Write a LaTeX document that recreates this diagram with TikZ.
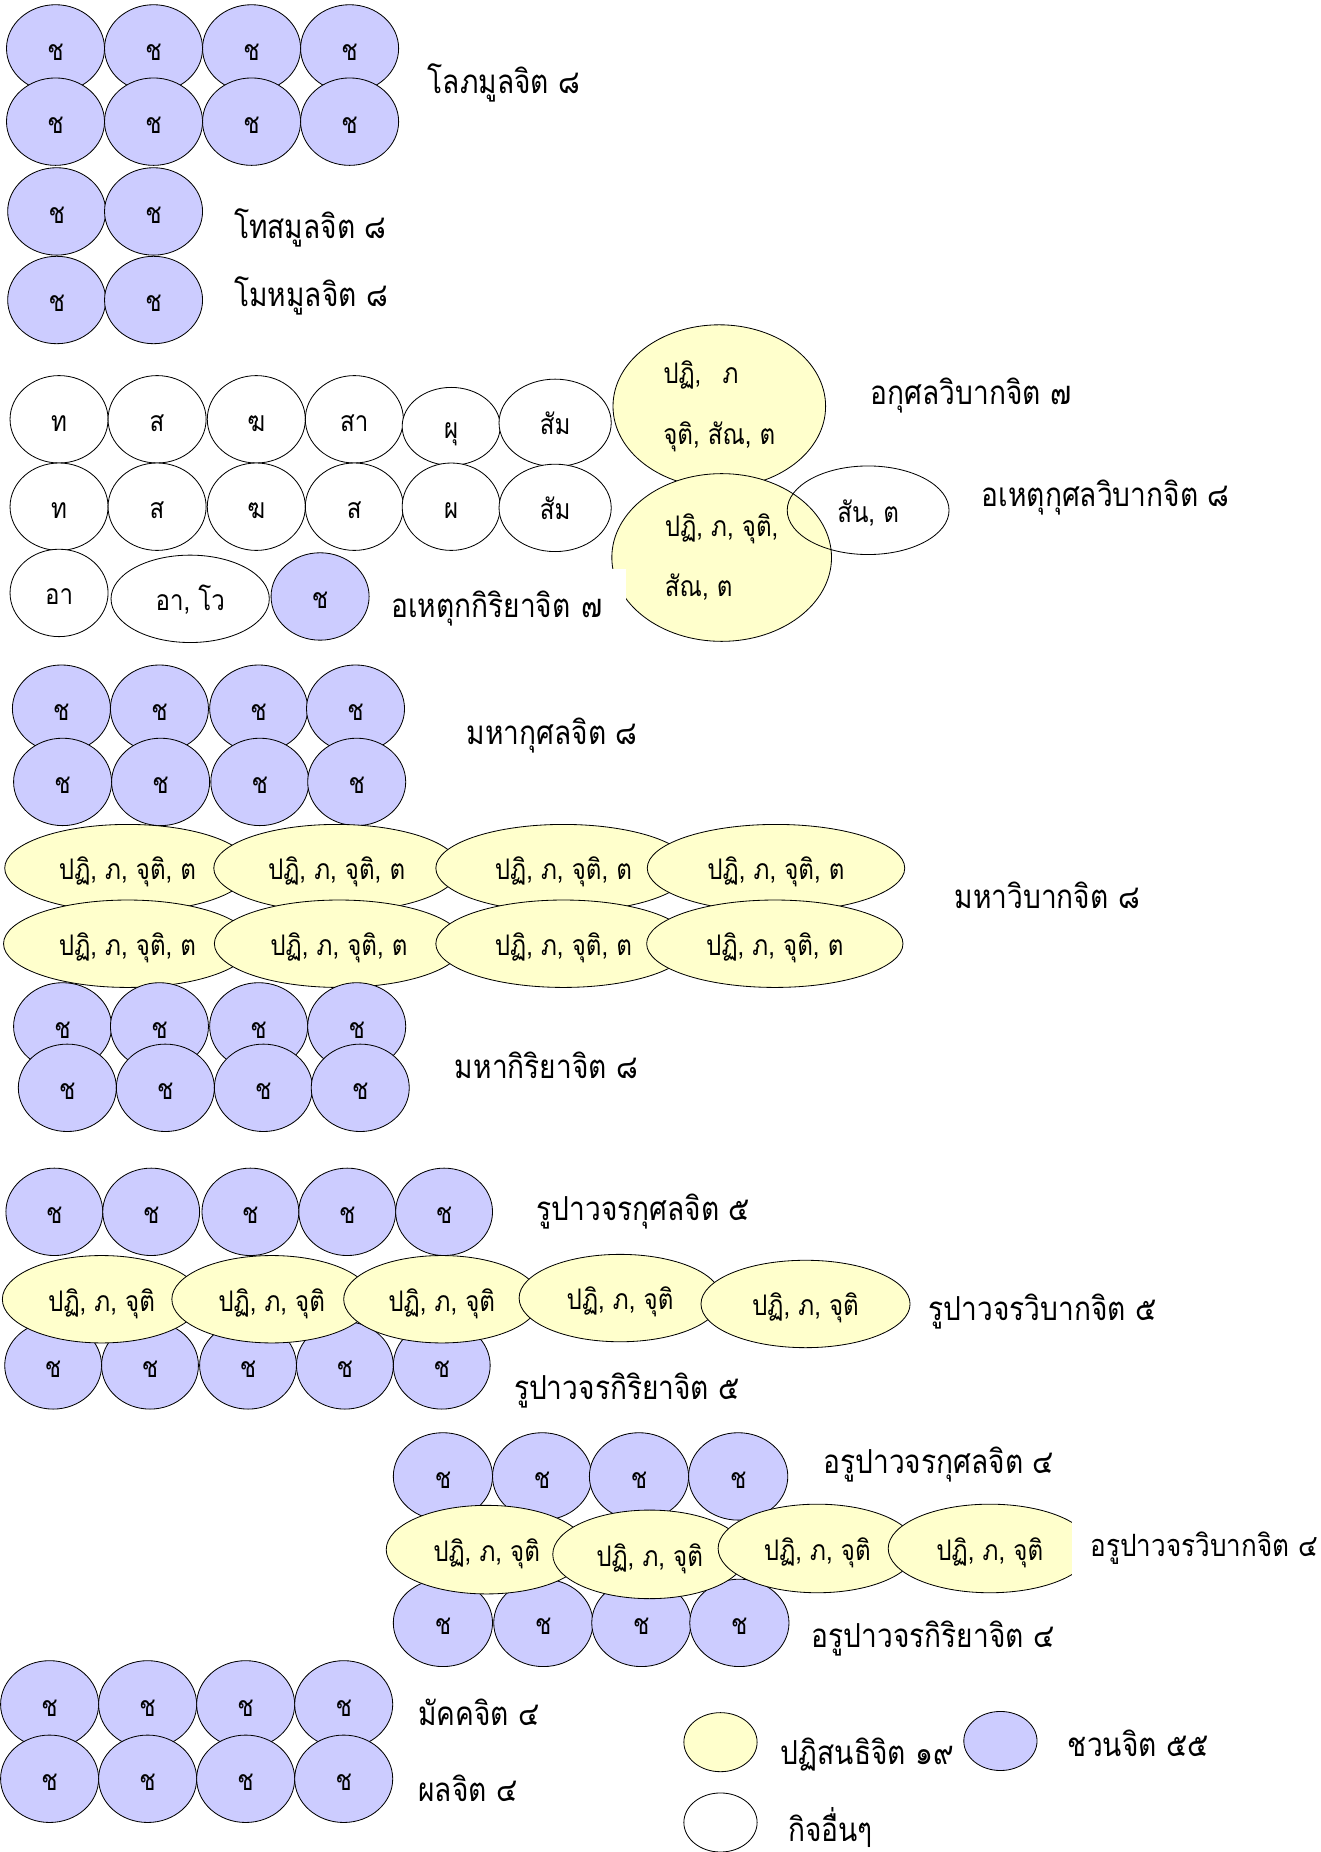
\documentclass[tikz,border=0pt]{standalone}
\usepackage{fontspec}
\newfontfamily\thai[Script=Thai, FakeStretch=0.85]{Loma}
\usetikzlibrary{shapes.geometric}
\definecolor{javcol}{RGB}{204,204,255}
\definecolor{patcol}{RGB}{255,255,204}
\tikzset{
  cit/.style={ellipse, draw, line width=0.7pt, inner sep=0pt, minimum width=83pt, minimum height=74pt, font=\thai\fontsize{24}{28}\selectfont},
  txt/.style={text height=22pt, text depth=2pt},
  jav/.style={cit, txt, fill=javcol},
  pat/.style={cit, txt, fill=patcol},
  kic/.style={cit, txt, fill=white},
  grp/.style={anchor=mid west, inner sep=0pt, yshift=-7pt, font=\thai\fontsize{28}{32}\selectfont}
}
\begin{document}
\begin{tikzpicture}[x=1pt,y=-1pt]
\useasboundingbox (0,0) rectangle (1118,1568);
\foreach \x [count=\i] in {47,130,213,296} {\node[jav] (lobA\i) at (\x,41) {ช};}
\foreach \x [count=\i] in {47,130,213,296} {\node[jav] (lobB\i) at (\x,103) {ช};}
\node[grp] (lobha) at (362,70) {โลภมูลจิต ๘};
\node[jav] (dos1) at (48,179) {ช};
\node[jav] (dos2) at (130,179) {ช};
\node[grp] (dosa) at (198,193) {โทสมูลจิต ๘};
\node[jav] (moh1) at (48,254) {ช};
\node[jav] (moh2) at (130,254) {ช};
\node[grp] (moha) at (198,250) {โมหมูลจิต ๘};

\foreach \x/\t [count=\i] in {50/ท,133/ส,217/ฆ,300/สา} {\node[kic] (akA\i) at (\x,355) {\t};}
\node[kic, minimum height=66pt] (akA5) at (382,361) {ผุ};
\node[kic, minimum width=95pt] (akA6) at (470,358) {สัม};
\foreach \x/\t [count=\i] in {50/ท,133/ส,217/ฆ,300/ส,382/ผ} {\node[kic] (akB\i) at (\x,429) {\t};}
\node[kic, minimum width=95pt] (akB6) at (470,430) {สัม};
\node[kic] (akC1) at (50,502) {อา};
\node[kic, minimum width=134pt] (akC2) at (161,507) {อา, โว};
\node[jav] (akC3) at (271,505) {ช};
\node[cit, fill=patcol, minimum width=180pt, minimum height=138pt, align=left] (akuv) at (609,344) {ปฏิ,\hspace{18pt}ภ\\[23pt]จุติ, สัณ, ต};
\node[cit, fill=patcol, minimum width=186pt, minimum height=142pt, align=left] (ahkv) at (611,472) {ปฏิ, ภ, จุติ,\\[23pt]สัณ, ต};
\node[cit, txt, minimum width=137pt, minimum height=75pt] (santi) at (735,432) {สัน, ต};
\node[grp] (akusv) at (737,333) {อกุศลวิบากจิต ๗};
\node[grp] (ahkusv) at (831,420) {อเหตุกุศลวิบากจิต ๘};
\node[grp, fill=white, inner xsep=5pt, text width=194pt, minimum height=68pt, align=left] (ahki) at (326,514) {อเหตุกกิริยาจิต ๗};

\foreach \x [count=\i] in {52,135,219,301} {\node[jav] (mkA\i) at (\x,600) {ช};}
\foreach \x [count=\i] in {53,136,220,302} {\node[jav] (mkB\i) at (\x,662) {ช};}
\node[grp] (mahaku) at (395,621) {มหากุศลจิต ๘};
\foreach \x/\w [count=\i] in {108/208,285/208,477/216,657/218} {\node[pat, minimum width=\w pt] (mvA\i) at (\x,735) {ปฏิ, ภ, จุติ, ต};}
\foreach \x/\w [count=\i] in {108/210,287/211,477/216,656/217} {\node[pat, minimum width=\w pt] (mvB\i) at (\x,799) {ปฏิ, ภ, จุติ, ต};}
\node[grp] (mahavi) at (808,760) {มหาวิบากจิต ๘};
\foreach \x [count=\i] in {53,135,219,302} {\node[jav] (mrA\i) at (\x,869) {ช};}
\foreach \x [count=\i] in {57,140,223,305} {\node[jav] (mrB\i) at (\x,921) {ช};}
\node[grp] (mahaki) at (385,904) {มหากิริยาจิต ๘};

\foreach \x [count=\i] in {46,128,212,294,376} {\node[jav, minimum width=82pt] (rkA\i) at (\x,1026) {ช};}
\foreach \x [count=\i] in {45,127,210,292,374} {\node[jav, minimum width=82pt] (rrA\i) at (\x,1156) {ช};}
\foreach \x/\y/\w [count=\i] in {86/1100/168,230/1100/169,374/1100/166,525/1099/171,682/1104/177} {\node[pat, minimum width=\w pt] (rv\i) at (\x,\y) {ปฏิ, ภ, จุติ};}
\node[grp] (rupaku) at (454,1024) {รูปาวจรกุศลจิต ๕};
\node[grp] (rupavi) at (786,1109) {รูปาวจรวิบากจิต ๕};
\node[grp] (rupaki) at (435,1176) {รูปาวจรกิริยาจิต ๕};

\foreach \x [count=\i] in {375,459,541,625} {\node[jav, minimum width=84pt] (arkA\i) at (\x,1250) {ช};}
\foreach \x [count=\i] in {375,460,543,626} {\node[jav, minimum width=84pt] (arrA\i) at (\x,1374) {ช};}
\foreach \x/\y/\w [count=\i] in {412/1312/170,550/1316/164,692/1311/168,838/1311/172} {\node[pat, minimum width=\w pt, minimum height=75pt] (arv\i) at (\x,\y) {ปฏิ, ภ, จุติ};}
\node[grp] (arupaku) at (697,1238) {อรูปาวจรกุศลจิต ๔};
\node[grp, fill=white, inner xsep=16pt, minimum height=82pt, font=\thai\fontsize{26}{30}\selectfont] (arupavi) at (907,1309) {อรูปาวจรวิบากจิต ๔};
\node[grp] (arupaki) at (687,1386) {อรูปาวจรกิริยาจิต ๔};

\foreach \x [count=\i] in {42,125,208,291} {\node[jav] (mag\i) at (\x,1443) {ช};}
\foreach \x [count=\i] in {42,125,208,291} {\node[jav] (phal\i) at (\x,1506) {ช};}
\node[grp] (magga) at (354,1452) {มัคคจิต ๔};
\node[grp] (phala) at (354,1516) {ผลจิต ๔};

\node[pat, minimum width=62pt, minimum height=50pt] (keyp) at (610,1475) {};
\node[grp] (keyptx) at (661,1485) {ปฏิสนธิจิต ๑๙};
\node[jav, minimum width=62pt, minimum height=50pt] (keyj) at (847,1474) {};
\node[grp] (keyjtx) at (904,1478) {ชวนจิต ๕๕};
\node[kic, minimum width=62pt, minimum height=50pt] (keyk) at (610,1543) {};
\node[grp] (keyktx) at (667,1550) {กิจอื่นๆ};
\end{tikzpicture}
\end{document}
